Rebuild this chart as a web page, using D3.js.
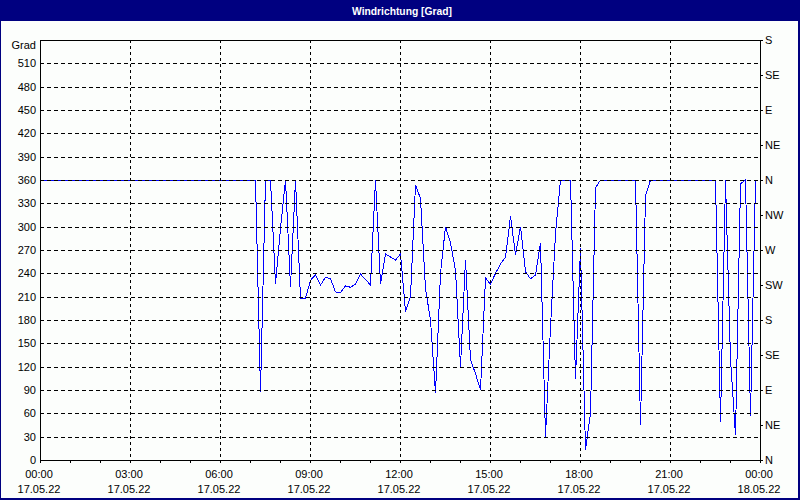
<!DOCTYPE html>
<html>
<head>
  <meta charset="utf-8">
  <style>
    body { margin:0; padding:0; background:#fcfefc; }
    text { font-family: "Liberation Sans Narrow", "Arial Narrow", sans-serif; font-size:11px; fill:#000; }
  </style>
  <script src="https://d3js.org/d3.v7.min.js"></script>
</head>
<body>
<script>
// wind direction in degrees, one reading every 10 minutes from 17.05.22 00:00
var startTime = Date.UTC(2022, 4, 17, 0, 0);
var stepMinutes = 10;
var windDir = [
  360,360,360,360,360,360, 360,360,360,360,360,360,   // 00:00 - 01:50
  360,360,360,360,360,360, 360,360,360,360,360,360,   // 02:00 - 03:50
  360,360,360,360,360,360, 360,360,360,360,360,360,   // 04:00 - 05:50
  360,360,360,360,360,360,                            // 06:00 - 06:50
  360,360,88,360,360,226,                             // 07:00
  298,360,223,360,208,208,                            // 08:00
  231,238,225,235,233,216,                            // 09:00
  215,224,222,226,239,232,                            // 10:00
  225,360,226,265,261,257,                            // 11:00
  265,191,210,354,336,220,                            // 12:00
  180,86,240,300,279,244,                             // 13:00
  120,257,129,111,90,234,                             // 14:00
  226,240,252,261,313,264,                            // 15:00
  300,242,233,238,279,30,                             // 16:00
  171,291,360,360,360,104,                            // 17:00
  272,13,60,350,360,360,                              // 18:00
  360,360,360,360,360,360,                            // 19:00
  45,340,360,360,360,360,                             // 20:00
  360,360,360,360,360,360,                            // 21:00
  360,360,360,360,49,360,                             // 22:00
  130,32,355,360,56,360                               // 23:00
];

var yTicks = [0,30,60,90,120,150,180,210,240,270,300,330,360,390,420,450,480,510];
var compassTicks = [0,45,90,135,180,225,270,315,360,405,450,495,540];
var compassLabels = ["N","NE","E","SE","S","SW","W","NW","N","NE","E","SE","S"];
var title = "Windrichtung [Grad]";
var unitLabel = "Grad";

var W = 800, H = 500;
var pL = 40, pT = 40, pR = 760, pB = 460;

var svg = d3.select("body").append("svg")
  .attr("width", W)
  .attr("height", H);

svg.append("rect").attr("x",0).attr("y",0).attr("width",W).attr("height",H).attr("fill","#fcfefc");

// title bar
svg.append("rect").attr("x",0).attr("y",0).attr("width",W).attr("height",21).attr("fill","#000080");
svg.append("text")
  .attr("x", 402).attr("y", 11)
  .attr("text-anchor","middle").attr("dominant-baseline","central")
  .attr("textLength", 100).attr("lengthAdjust","spacingAndGlyphs")
  .style("font-family","'Liberation Sans', Arial, sans-serif")
  .style("font-weight","bold").style("font-size","11px").style("fill","#fff")
  .text(title);

// frame
svg.append("rect").attr("x",0).attr("y",0).attr("width",1).attr("height",H).attr("fill","#000080");
svg.append("rect").attr("x",W-2).attr("y",0).attr("width",2).attr("height",H).attr("fill","#000080");
svg.append("rect").attr("x",0).attr("y",H-2).attr("width",W).attr("height",2).attr("fill","#000080");

var x = d3.scaleUtc()
  .domain([new Date(startTime), new Date(startTime + 24*3600*1000)])
  .range([pL, pR]);
var y = d3.scaleLinear().domain([0, 540]).range([pB, pT]);

var data = windDir.map(function(v, i) {
  return { t: new Date(startTime + i*stepMinutes*60000), v: v };
});

// data line
var line = d3.line()
  .x(function(d){ return Math.round(x(d.t)) + 0.5; })
  .y(function(d){ return y(d.v); });
svg.append("path")
  .datum(data)
  .attr("d", line)
  .attr("fill","none")
  .attr("stroke","#0000ff")
  .attr("stroke-width",1)
  .attr("shape-rendering","crispEdges");

// grid (drawn over the line like the original)
var majorTimes = x.ticks(d3.utcHour.every(3));
svg.append("g").selectAll("line")
  .data(yTicks.filter(function(d){ return d > 0; }))
  .enter().append("line")
  .attr("x1", pL).attr("x2", pR)
  .attr("y1", function(d){ return Math.round(y(d)) + 0.5; })
  .attr("y2", function(d){ return Math.round(y(d)) + 0.5; })
  .attr("stroke","#000").attr("stroke-dasharray","4,3")
  .attr("shape-rendering","crispEdges");
svg.append("g").selectAll("line")
  .data(majorTimes.slice(1, -1))
  .enter().append("line")
  .attr("x1", function(d){ return Math.round(x(d)) + 0.5; })
  .attr("x2", function(d){ return Math.round(x(d)) + 0.5; })
  .attr("y1", pT).attr("y2", pB)
  .attr("stroke","#000").attr("stroke-dasharray","3,3")
  .attr("shape-rendering","crispEdges");

// plot border
svg.append("rect")
  .attr("x", pL + 0.5).attr("y", pT + 0.5)
  .attr("width", pR - pL).attr("height", pB - pT)
  .attr("fill","none").attr("stroke","#000")
  .attr("shape-rendering","crispEdges");

// left axis labels
svg.append("g").selectAll("text")
  .data(yTicks)
  .enter().append("text")
  .attr("x", pL - 4)
  .attr("y", function(d){ return y(d); })
  .attr("text-anchor","end").attr("dominant-baseline","central")
  .text(function(d){ return d; });
svg.append("text")
  .attr("x", pL - 4).attr("y", 45)
  .attr("text-anchor","end").attr("dominant-baseline","central")
  .text(unitLabel);

// right compass axis
var rg = svg.append("g");
rg.selectAll("line")
  .data(compassTicks)
  .enter().append("line")
  .attr("x1", pR).attr("x2", pR + 3)
  .attr("y1", function(d){ return Math.round(y(d)) + 0.5; })
  .attr("y2", function(d){ return Math.round(y(d)) + 0.5; })
  .attr("stroke","#000").attr("shape-rendering","crispEdges");
rg.selectAll("text")
  .data(compassTicks)
  .enter().append("text")
  .attr("x", pR + 5)
  .attr("y", function(d){ return y(d); })
  .attr("dominant-baseline","central")
  .text(function(d, i){ return compassLabels[i]; });

// bottom axis: hourly ticks, labels every 3 hours
svg.append("g").selectAll("line")
  .data(x.ticks(d3.utcHour.every(1)))
  .enter().append("line")
  .attr("x1", function(d){ return Math.round(x(d)) + 0.5; })
  .attr("x2", function(d){ return Math.round(x(d)) + 0.5; })
  .attr("y1", pB).attr("y2", pB + 3)
  .attr("stroke","#000").attr("shape-rendering","crispEdges");
var fmtTime = d3.utcFormat("%H:%M");
var fmtDate = d3.utcFormat("%d.%m.%y");
var xl = svg.append("g").selectAll("g")
  .data(majorTimes)
  .enter().append("g");
xl.append("text")
  .attr("x", function(d){ return x(d) - 1; })
  .attr("y", 474)
  .attr("text-anchor","middle").attr("dominant-baseline","central")
  .text(fmtTime);
xl.append("text")
  .attr("x", function(d){ return x(d) - 1; })
  .attr("y", 489)
  .attr("text-anchor","middle").attr("dominant-baseline","central")
  .text(fmtDate);
</script>
</body>
</html>
